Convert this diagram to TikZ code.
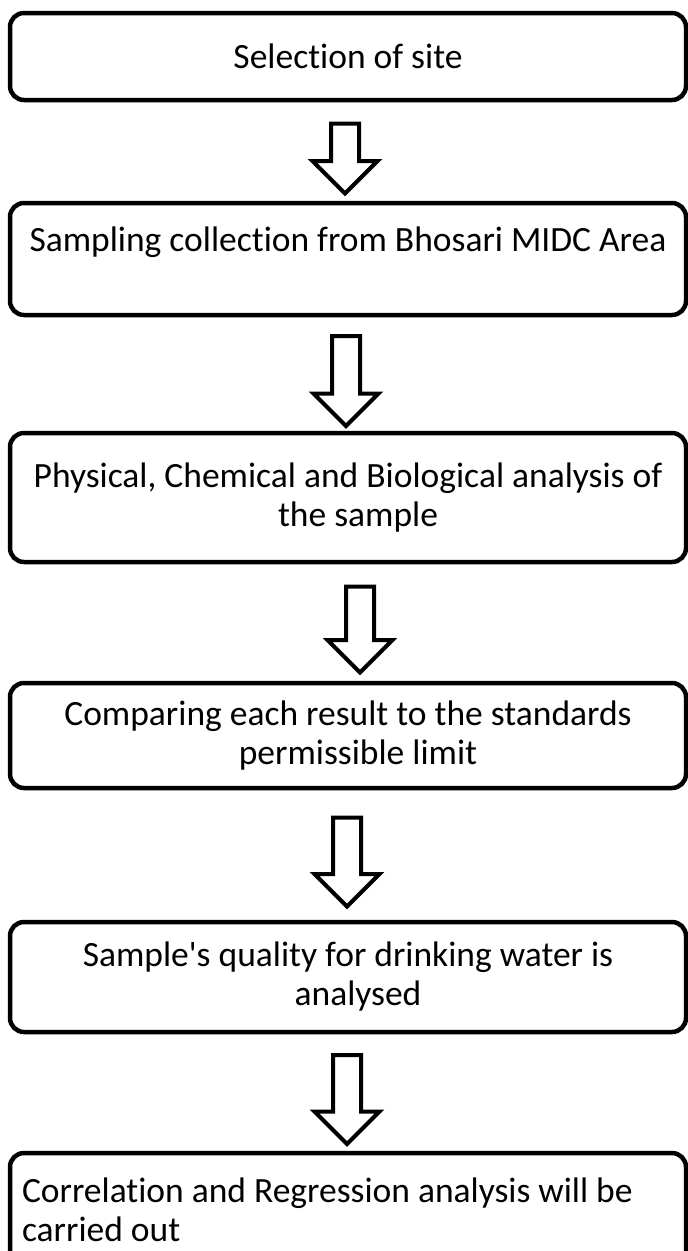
\documentclass[tikz,border=0pt]{standalone}
\usepackage{fontspec}
\setmainfont{Carlito}[Ligatures={TeXOff,CommonOff}]
\usetikzlibrary{shapes.arrows,calc,positioning}
\newcommand{\mylw}{4.5pt}
\newcommand{\indnt}{\hspace*{20pt}}
\tikzset{
    stepsty/.style={draw, line width=\mylw, rectangle, rounded corners=14pt, minimum width=676pt, inner sep=0pt, align=center, font=\fontsize{35.5}{39}\selectfont},
    leftsty/.style={stepsty, align=flush left, text width=652pt},
    arrsty/.style={draw, line width=4pt, single arrow, shape border rotate=270, inner sep=12pt, single arrow head extend=18.5pt, minimum width=61pt},
}

\begin{document}
\begin{tikzpicture}[x=1pt, y=-1pt]
  \useasboundingbox (0,0) rectangle (688,1251);

  % steps
  \node[stepsty, minimum height=87pt]  (s1) at (348,56.5) {Selection of site};
  \node[stepsty, minimum height=112pt] (s2) at (348,259) {Sampling collection from Bhosari MIDC Area\\ \mbox{}};
  \node[stepsty, minimum height=129pt] (s3) at (348,497.5) {Physical, Chemical and Biological analysis of\\ \indnt the sample};
  \node[stepsty, minimum height=105pt] (s4) at (348,735.5) {Comparing each result to the standards\\ \indnt permissible limit};
  \node[stepsty, minimum height=110pt] (s5) at (348,977) {Sample's quality for drinking water is\\ \indnt analysed};
  \node[leftsty, minimum height=114pt] (s6) at (348,1210) {Correlation and Regression analysis will be\\ carried out};

  % hollow arrows between the steps
  \node[arrsty, minimum height=70pt] (a1) at ([xshift=-3pt]$(s1.south)!0.5!(s2.north)$) {};
  \node[arrsty, minimum height=90pt] (a2) at ([xshift=-2pt]$(s2.south)!0.5!(s3.north)$) {};
  \node[arrsty, minimum height=86pt] (a3) at ([xshift=12pt]$(s3.south)!0.5!(s4.north)$) {};
  \node[arrsty, minimum height=89pt] (a4) at ([xshift=-1pt]$(s4.south)!0.5!(s5.north)$) {};
  \node[arrsty, minimum height=89pt] (a5) at ([xshift=-1pt]$(s5.south)!0.5!(s6.north)$) {};
\end{tikzpicture}
\end{document}
